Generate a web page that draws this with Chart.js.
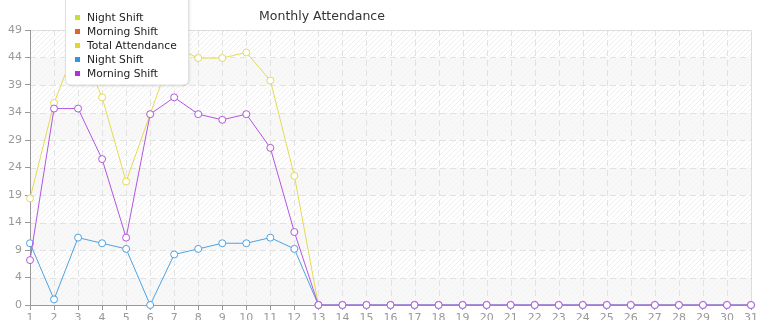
<!DOCTYPE html>
<html><head><meta charset="utf-8">
<script src="https://cdn.jsdelivr.net/npm/chart.js@4.4.1/dist/chart.umd.min.js"></script>
<style>html,body{margin:0;padding:0;background:#fff;}#wrap{width:765px;height:320px;position:relative;}</style>
</head><body><div id="wrap"><canvas id="c" width="765" height="320"></canvas></div>
<script>
const days = ['1','2','3','4','5','6','7','8','9','10','11','12','13','14','15','16','17','18','19','20','21','22','23','24','25','26','27','28','29','30','31'];
const totalAttendance = [19,36,47,37,22,34,46,44,44,45,40,23,0,0,0,0,0,0,0,0,0,0,0,0,0,0,0,0,0,0,0];
const nightShift = [11,1,12,11,10,0,9,10,11,11,12,10,0,0,0,0,0,0,0,0,0,0,0,0,0,0,0,0,0,0,0];
const morningShift = [8,35,35,26,12,34,37,34,33,34,28,13,0,0,0,0,0,0,0,0,0,0,0,0,0,0,0,0,0,0,0];
const yTicks = [0,4.9,9.8,14.7,19.6,24.5,29.4,34.3,39.2,44.1,49];
const legendNames = ['Night Shift','Morning Shift','Total Attendance','Night Shift','Morning Shift'];
const legendColors = ['#c4e034','#e2632c','#e2d52e','#3196e0','#b02fe0'];
const chartTitle = 'Monthly Attendance';

const FONT = '"DejaVu Sans", Verdana, sans-serif';

function makePattern(ctx, bg, line) {
  const p = document.createElement('canvas');
  p.width = 5; p.height = 5;
  const g = p.getContext('2d');
  g.fillStyle = bg; g.fillRect(0,0,5,5);
  g.strokeStyle = line; g.lineWidth = 1;
  g.beginPath();
  g.moveTo(-1,6); g.lineTo(6,-1);
  g.moveTo(-1,1); g.lineTo(1,-1);
  g.moveTo(4,6); g.lineTo(6,4);
  g.stroke();
  return ctx.createPattern(p, 'repeat');
}

const bgPlugin = {
  id: 'bgGrid',
  beforeDraw(chart) {
    const {ctx, chartArea: a, scales: {x, y}} = chart;
    ctx.save();
    const pA = makePattern(ctx, '#ffffff', '#efefef');
    const pB = makePattern(ctx, '#f8f8f8', '#f3f3f3');
    for (let i = 0; i < yTicks.length - 1; i++) {
      const y0 = y.getPixelForValue(yTicks[i]);
      const y1 = y.getPixelForValue(yTicks[i+1]);
      ctx.fillStyle = (yTicks.length - 2 - i) % 2 === 0 ? pA : pB;
      ctx.fillRect(a.left, y1, a.right - a.left, y0 - y1);
    }
    ctx.strokeStyle = '#e2e2e2';
    ctx.lineWidth = 1;
    ctx.setLineDash([6,4]);
    for (let i = 1; i < yTicks.length - 1; i++) {
      const yy = Math.round(y.getPixelForValue(yTicks[i])) + 0.5;
      ctx.beginPath(); ctx.moveTo(a.left, yy); ctx.lineTo(a.right, yy); ctx.stroke();
    }
    for (let i = 1; i < days.length - 1; i++) {
      const xx = Math.round(x.getPixelForValue(i)) + 0.5;
      ctx.beginPath(); ctx.moveTo(xx, a.top); ctx.lineTo(xx, a.bottom); ctx.stroke();
    }
    ctx.setLineDash([]);
    ctx.strokeStyle = '#dddddd';
    const top = Math.round(y.getPixelForValue(49)) + 0.5;
    const right = Math.round(x.getPixelForValue(days.length - 1)) + 0.5;
    ctx.beginPath(); ctx.moveTo(a.left, top); ctx.lineTo(right, top); ctx.lineTo(right, a.bottom); ctx.stroke();
    ctx.restore();
  },
  afterDraw(chart) {
    const ctx = chart.ctx;
    ctx.save();
    // title
    ctx.font = '12.5px ' + FONT;
    ctx.fillStyle = '#333333';
    ctx.textAlign = 'center';
    ctx.textBaseline = 'middle';
    ctx.fillText(chartTitle, 322, 17);
    // legend box
    const bx = 65.5, by = -8, bw = 123, bh = 93, r = 6;
    ctx.shadowColor = 'rgba(0,0,0,0.12)';
    ctx.shadowBlur = 3;
    ctx.shadowOffsetX = 1;
    ctx.shadowOffsetY = 1;
    ctx.beginPath();
    ctx.moveTo(bx, by);
    ctx.lineTo(bx + bw, by);
    ctx.lineTo(bx + bw, by + bh - r);
    ctx.quadraticCurveTo(bx + bw, by + bh, bx + bw - r, by + bh);
    ctx.lineTo(bx + r, by + bh);
    ctx.quadraticCurveTo(bx, by + bh, bx, by + bh - r);
    ctx.closePath();
    ctx.fillStyle = '#ffffff';
    ctx.fill();
    ctx.shadowColor = 'transparent';
    ctx.strokeStyle = '#e0e0e0';
    ctx.lineWidth = 1;
    ctx.stroke();
    ctx.font = '10.7px ' + FONT;
    ctx.textAlign = 'left';
    ctx.textBaseline = 'middle';
    const rows = [18, 32, 46, 60, 74];
    legendNames.forEach((n, i) => {
      ctx.fillStyle = legendColors[i];
      ctx.fillRect(75, rows[i] - 3, 5, 5);
      ctx.fillStyle = '#222222';
      ctx.fillText(n, 87, rows[i]);
    });
    ctx.restore();
  }
};

const lineDs = (label, data, color, order) => ({
  label, data, borderColor: color, backgroundColor: '#ffffff',
  borderWidth: 1, pointRadius: 3.5, pointHoverRadius: 3.5,
  pointBorderWidth: 1, pointBackgroundColor: '#ffffff', pointBorderColor: color,
  tension: 0, fill: false, order, clip: 6
});

new Chart(document.getElementById('c'), {
  type: 'line',
  data: {
    labels: days,
    datasets: [
      lineDs(legendNames[2], totalAttendance, '#e6db52', 2),
      lineDs(legendNames[3], nightShift, '#4ca3e2', 1),
      lineDs(legendNames[4], morningShift, '#b455e2', 0)
    ]
  },
  options: {
    responsive: false,
    animation: false,
    events: [],
    layout: { padding: { top: 30, right: 14, left: 0, bottom: 0 } },
    plugins: { legend: { display: false }, tooltip: { enabled: false }, title: { display: false } },
    scales: {
      x: {
        offset: false,
        grid: { display: true, drawOnChartArea: false, drawTicks: true, tickLength: 5, color: '#999999' },
        border: { display: true, color: '#999999' },
        ticks: { autoSkip: false, maxRotation: 0, minRotation: 0, padding: 2, color: '#999999', font: { family: FONT, size: 11 } },
        afterFit(s) { s.height = 15; }
      },
      y: {
        min: 0, max: 49,
        grid: { display: true, drawOnChartArea: false, drawTicks: true, tickLength: 5, color: '#999999' },
        border: { display: true, color: '#999999' },
        afterBuildTicks(s) { s.ticks = yTicks.map(v => ({ value: v })); },
        ticks: {
          padding: 3, color: '#999999', font: { family: FONT, size: 11 },
          callback: (v) => String(Math.floor(v + 1e-6))
        },
        afterFit(s) { s.width = 30; }
      }
    }
  },
  plugins: [bgPlugin]
});
</script>
</body></html>
